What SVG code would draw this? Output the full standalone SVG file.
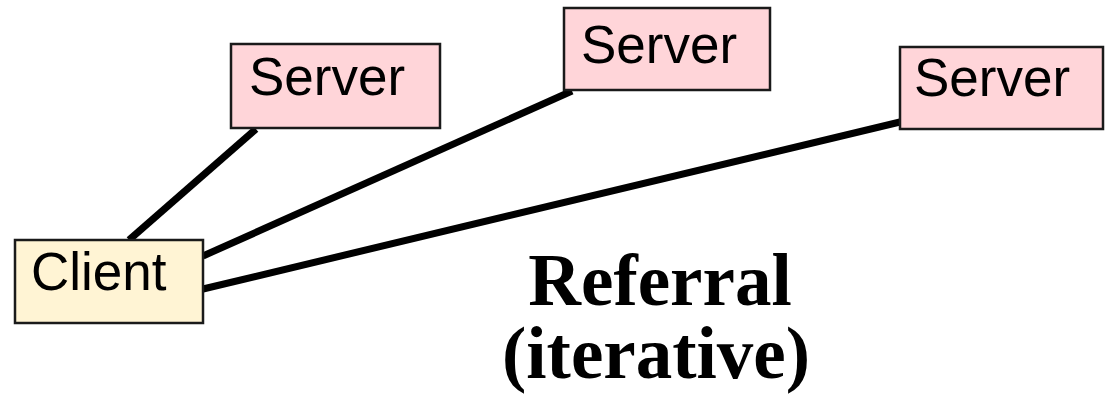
<svg xmlns="http://www.w3.org/2000/svg" width="1115" height="394" viewBox="0 0 1115 394">
<style>
.box{stroke:#1a1a1a;stroke-width:2.5}
.client{fill:#fff4d4}
.server{fill:#ffd5d9}
.lbl{font-family:"Liberation Sans",Arial,sans-serif;font-size:53px;fill:#000}
.title{font-family:"Liberation Serif","Times New Roman",serif;font-size:73px;font-weight:bold;fill:#000;text-anchor:middle}
.conn{stroke:#000;stroke-width:7;fill:none}
</style>
<rect width="1115" height="394" fill="#fff"/>
<g id="connectors">
<line class="conn" x1="129" y1="240" x2="256" y2="129"/>
<line class="conn" x1="203" y1="256" x2="572" y2="91"/>
<line class="conn" x1="203" y1="289" x2="900" y2="122"/>
</g>
<g id="client">
<rect class="box client" x="15" y="240" width="188" height="83"/>
<text class="lbl" x="31" y="290">Client</text>
</g>
<g id="server1">
<rect class="box server" x="231" y="44" width="209" height="84"/>
<text class="lbl" x="249" y="95">Server</text>
</g>
<g id="server2">
<rect class="box server" x="564" y="8" width="206" height="82"/>
<text class="lbl" x="581" y="63">Server</text>
</g>
<g id="server3">
<rect class="box server" x="900" y="47" width="203" height="82"/>
<text class="lbl" x="914" y="96">Server</text>
</g>
<g id="caption">
<text class="title" x="660" y="305">Referral</text>
<text class="title" x="656" y="378">(iterative)</text>
</g>
</svg>
